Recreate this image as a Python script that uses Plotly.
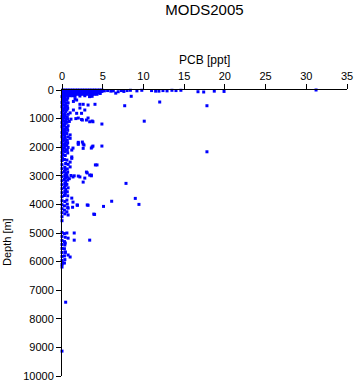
import plotly.graph_objects as go

# ---- data (PCB in ppt, depth in m) ----
# dense surface band
surf_pcb = [0.1, 0.4, 0.7, 1.0, 1.3, 1.6, 1.9, 2.2, 2.5, 2.8, 3.1, 3.4, 3.7, 4.0, 4.3, 4.6, 4.9,
            0.1, 0.4, 0.7, 1.0, 1.3, 1.6, 1.9, 2.2, 2.5, 2.8, 3.1, 3.4, 3.7, 4.0, 4.3, 4.6, 4.9,
            0.1, 0.4, 0.7, 1.0, 1.3, 1.6, 1.9, 2.2, 2.5, 2.8, 3.1, 3.4, 3.7, 4.0, 4.3, 4.6,
            0.1, 0.4, 0.7, 1.0, 1.3, 1.6, 1.9, 2.2, 2.5, 2.8, 3.1, 3.4, 3.7, 4.0, 4.3,
            0.1, 0.4, 0.7, 1.0, 1.3, 1.6, 2.2, 2.8, 3.4, 3.7]
surf_depth = [0, 0, 0, 0, 0, 0, 0, 0, 0, 0, 0, 0, 0, 0, 0, 0, 0,
              50, 50, 50, 50, 50, 50, 50, 50, 50, 50, 50, 50, 50, 50, 50, 50, 50,
              100, 100, 100, 100, 100, 100, 100, 100, 100, 100, 100, 100, 100, 100, 100, 100,
              150, 150, 150, 150, 150, 150, 150, 150, 150, 150, 150, 150, 150, 150, 150,
              200, 200, 200, 200, 200, 200, 210, 200, 230, 220]

# near-surface points at higher concentrations
top_pcb = [5.2, 5.6, 6.0, 6.3, 6.6, 6.9, 7.3, 7.6, 8.0, 8.4, 8.5, 9.2, 9.8, 11.0, 11.5, 11.9,
           12.4, 12.9, 13.5, 14.0, 14.6, 16.7, 17.4, 18.7, 19.9, 31.2]
top_depth = [30, 20, 40, 30, 110, 60, 20, 50, 20, 10, 220, 30, 10, 20, 40, 40,
             20, 30, 10, 20, 10, 60, 70, 40, 50, 0]

# near-axis column of low values
col_a_pcb = [0.0, 0.1, 0.05, 0.0, 0.1, 0.0, 0.05, 0.1, 0.0, 0.1, 0.0, 0.05, 0.1, 0.0, 0.1, 0.0,
             0.05, 0.1, 0.0, 0.1, 0.0, 0.05, 0.1, 0.0, 0.1, 0.0, 0.05, 0.1, 0.0, 0.1, 0.0, 0.05,
             0.0, -0.1, 0.0, -0.1, 0.0, -0.1, 0.0, -0.1, 0.0, -0.1, 0.0, -0.1, 0.0, -0.1, 0.0, -0.1,
             0.0, -0.1, 0.0, -0.1, 0.0, -0.1, 0.0, -0.1, 0.0, -0.1, 0.0, -0.1, 0.0, -0.1, 0.0,
             0.0, -0.1, 0.0, -0.1, 0.0, -0.1, 0.0, -0.1, 0.0, -0.1, 0.0, -0.1, 0.0, -0.1, 0.0, -0.1, 0.0]
col_a_depth = [230, 300, 370, 440, 510, 580, 650, 720, 790, 860, 930, 1000, 1070, 1140, 1210, 1280,
               1350, 1420, 1490, 1560, 1630, 1700, 1770, 1840, 1910, 1980, 2050, 2120, 2190, 2260, 2330, 2400,
               2470, 2540, 2610, 2680, 2750, 2820, 2890, 2960, 3030, 3100, 3170, 3240, 3310, 3380, 3450, 3520,
               3590, 3660, 3730, 3800, 3870, 3940, 4010, 4080, 4150, 4220, 4290, 4360, 4430, 4500, 4570,
               4980, 5050, 5120, 5190, 5260, 5330, 5400, 5470, 5540, 5610, 5680, 5750, 5820, 5890, 5960, 6030, 6100]

col_b_pcb = [0.35, 0.4, 0.3, 0.45, 0.35, 0.4, 0.3, 0.45, 0.35, 0.4, 0.3, 0.45, 0.35, 0.4, 0.3, 0.45,
             0.35, 0.4, 0.3, 0.35, 0.4, 0.3, 0.45, 0.35, 0.4, 0.3, 0.45, 0.35, 0.4, 0.3, 0.45, 0.35,
             0.4, 0.3, 0.45, 0.35, 0.4, 0.3, 0.45, 0.35, 0.4, 0.3, 0.45, 0.35, 0.4, 0.3, 0.35, 0.3,
             0.3, 0.35, 0.3, 0.4, 0.3, 0.35, 0.3, 0.4, 0.3, 0.35, 0.3]
col_b_depth = [260, 330, 400, 470, 540, 610, 680, 750, 820, 890, 960, 1030, 1100, 1170, 1240, 1310,
               1380, 1450, 1520, 1600, 1670, 1740, 1810, 1880, 1950, 2020, 2090, 2160, 2290, 2430, 2570, 2700,
               2780, 2850, 2920, 2990, 3060, 3130, 3200, 3270, 3340, 3410, 3480, 3550, 3620, 3690, 3900, 4050,
               4200, 4330, 5020, 5150, 5300, 5420, 5550, 5680, 5800, 5930, 6050]

col_c_pcb = [0.7, 0.6, 0.75, 0.65, 0.7, 0.6, 0.75, 0.65, 0.7, 0.6, 0.75, 0.65, 0.7, 0.6, 0.75, 0.65,
             0.7, 0.6, 0.75, 0.65, 0.7, 0.6, 0.75, 0.65, 0.7, 0.6, 0.65, 0.7, 0.6, 0.75, 0.65, 0.7,
             0.6, 0.65, 0.7, 0.6]
col_c_depth = [280, 360, 450, 560, 640, 700, 850, 950, 1020, 1130, 1250, 1330, 1410, 1520, 1640, 1760,
               1850, 1930, 2010, 2110, 2200, 2450, 2600, 2760, 2870, 2960, 3050, 3150, 3300, 3420, 3560, 3700,
               3850, 3990, 4110, 4260]

# scattered points
sc_pcb = [7.7, 12.0, 10.1, 4.9, 17.8, 17.8, 7.86, 6.1, 9.0, 9.45, 5.1, 4.0, 3.2, 1.9, 4.1, 3.6,
          3.0, 2.6, 4.9, 3.8, 3.6, 2.6, 2.6, 2.0, 2.0, 1.2, 1.2, 1.0, 1.0, 2.4, 3.0, 3.4,
          3.8, 1.8, 2.4, 1.4, 4.05, 3.2, 2.6, 2.2, 1.8, 1.4, 3.4, 3.8, 4.7, 2.2, 2.8, 1.0,
          2.0, 3.2, 3.7, 2.5, 2.0, 2.5, 2.7, 3.7, 1.35, 4.3, 3.1, 3.6, 1.2, 2.0, 1.35, 1.0,
          1.0, 2.2, 2.8, 3.4, 1.2, 1.35, 1.85, 3.1, 0.75, 0.75, 3.9, 0.6, 1.5, 0.75, 1.5, 3.4,
          0.4, 0.4, 0.75, 1.0, 0.1, 0.0, 0.45, 0.0, 1.5, 1.7, 1.1, 0.9, 1.3, 1.6, 1.1, 0.9]
sc_depth = [550, 420, 1090, 1190, 550, 2160, 3265, 3890, 3790, 4000, 4070, 4350, 4030, 4030, 2620, 3000,
            2870, 3220, 1960, 1960, 2030, 2040, 1890, 1830, 1900, 2390, 2100, 1570, 1690, 1030, 1050, 1110,
            1110, 815, 815, 700, 500, 525, 500, 500, 350, 400, 230, 120, 120, 630, 700, 800,
            980, 980, 1085, 1050, 1860, 1820, 1925, 1990, 2030, 2620, 2900, 2975, 2340, 3010, 3040, 2520,
            2690, 3040, 3080, 2975, 3780, 3920, 4020, 4020, 4130, 4370, 4340, 5000, 5000, 5180, 5250, 5250,
            5350, 5660, 5770, 5840, 6050, 6190, 7420, 9130, 3000, 1000, 1020, 3100, 4100, 300, 2990, 1100]

x_ticks = [0, 5, 10, 15, 20, 25, 30, 35]
y_ticks = [0, 1000, 2000, 3000, 4000, 5000, 6000, 7000, 8000, 9000, 10000]

pcb = surf_pcb + top_pcb + col_a_pcb + col_b_pcb + col_c_pcb + sc_pcb
depth = surf_depth + top_depth + col_a_depth + col_b_depth + col_c_depth + sc_depth

FONT = "Liberation Sans, Arial, Helvetica, sans-serif"

fig = go.Figure(go.Scatter(
    x=pcb, y=depth, mode="markers",
    marker=dict(symbol="square", size=3, color="#0000ff", line=dict(width=0)),
    cliponaxis=False, showlegend=False, hoverinfo="x+y",
))

fig.update_layout(
    width=355, height=384,
    margin=dict(l=62, r=8, t=90, b=8),
    paper_bgcolor="white", plot_bgcolor="white",
    font=dict(family=FONT, size=11, color="black"),
    title=dict(text="MODS2005", x=0.576, xanchor="center", y=0.975, yanchor="middle",
               font=dict(family=FONT, size=15, color="black")),
    xaxis=dict(side="top", range=[0, 35], tickvals=x_ticks, ticks="outside", ticklen=5,
               tickwidth=1, tickcolor="black", showline=True, linecolor="black", linewidth=1,
               showgrid=False, zeroline=False, automargin=False),
    yaxis=dict(range=[10000, 0], tickvals=y_ticks, tickformat="d", ticks="outside", ticklen=5,
               tickwidth=1, tickcolor="black", showline=True, linecolor="black", linewidth=1,
               showgrid=False, zeroline=False, automargin=False),
    annotations=[
        dict(text="PCB [ppt]", xref="paper", yref="paper", x=0.5, y=1.105,
             xanchor="center", yanchor="middle", showarrow=False,
             font=dict(family=FONT, size=12, color="black")),
        dict(text="Depth [m]", textangle=-90, xref="paper", yref="paper",
             x=-0.195, y=0.47, xanchor="center", yanchor="middle", showarrow=False,
             font=dict(family=FONT, size=11, color="black")),
    ],
)

fig.write_html("out.html")
